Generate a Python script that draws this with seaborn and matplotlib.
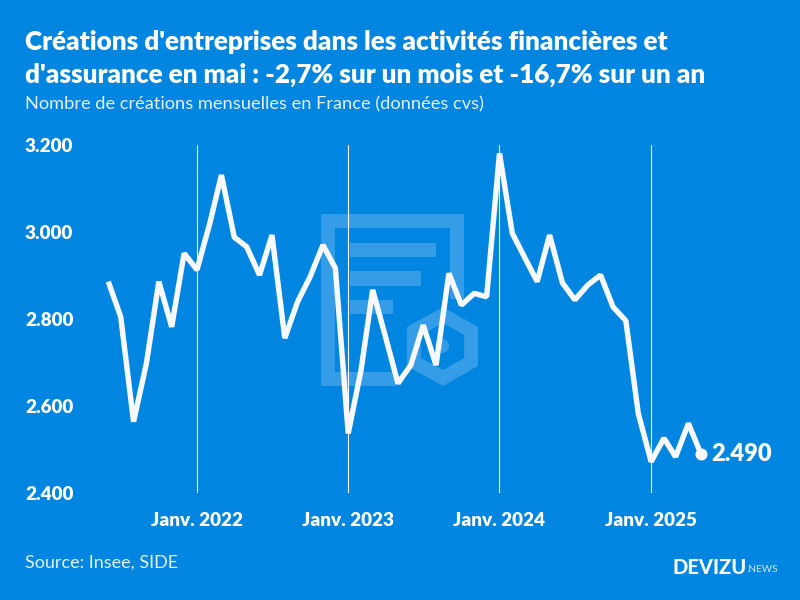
import pandas as pd
import matplotlib.pyplot as plt
from matplotlib.patches import Rectangle, Polygon, Circle
import seaborn as sns

months = pd.date_range("2021-06-01", "2025-05-01", freq="MS")
creations = [2886, 2805, 2564, 2698, 2886, 2782, 2951,
             2913, 3020, 3131, 2988, 2966, 2901, 2993, 2756, 2840, 2897, 2970, 2917,
             2537, 2683, 2867, 2759, 2652, 2694, 2786, 2694, 2905, 2832, 2859, 2851,
             3181, 2997, 2943, 2886, 2993, 2883, 2844, 2878, 2901, 2828, 2796, 2583,
             2472, 2526, 2483, 2560, 2490]
y_ticks = [2400, 2600, 2800, 3000, 3200]
y_labels = ["2.400", "2.600", "2.800", "3.000", "3.200"]
x_ticks = pd.to_datetime(["2022-01-01", "2023-01-01", "2024-01-01", "2025-01-01"])
x_labels = ["Janv. 2022", "Janv. 2023", "Janv. 2024", "Janv. 2025"]
last_label = "2.490"

title = "Créations d'entreprises dans les activités financières et\nd'assurance en mai : -2,7% sur un mois et -16,7% sur un an"
subtitle = "Nombre de créations mensuelles en France (données cvs)"
source = "Source: Insee, SIDE"

BG = "#0085E0"
WM = "#359CE8"
WHITE = "#F8F9FF"

sns.set_theme(style="white")
plt.rcParams["font.family"] = ["Lato", "DejaVu Sans"]

fig = plt.figure(figsize=(8, 6), dpi=100, facecolor=BG)

# background layer in pixel coords, for the texts and the watermark
bg = fig.add_axes([0, 0, 1, 1])
bg.set_xlim(0, 800)
bg.set_ylim(600, 0)
bg.axis("off")

for x, y, w, h in [(321, 214, 143, 14), (321, 214, 14, 172), (321, 372, 76, 14),
                   (450, 214, 14, 85), (350, 243, 86, 14), (350, 271, 71, 15),
                   (350, 300, 43, 14)]:
    bg.add_patch(Rectangle((x, y), w, h, fc=WM, ec="none"))
bg.add_patch(Polygon([(443, 315), (471, 331), (471, 362), (443, 378), (414, 362), (414, 331)],
                     closed=True, fc="none", ec=WM, lw=10, joinstyle="miter"))
bg.add_patch(Circle((442, 346), 7, fc=WM, ec="none"))

bg.text(25, 58.5, title, color="white", fontsize=18.8, fontweight="heavy", va="center", linespacing=1.4)
bg.text(25, 104, subtitle, color="#E4F1FC", fontsize=13.15, va="center")
bg.text(25, 563, source, color="#E4F1FC", fontsize=13, va="center")
bg.text(673, 567, "DEVIZU", color=WHITE, fontsize=14.5, fontweight="black", va="center")
bg.text(746, 570, ".NEWS", color="#D5E8F8", fontsize=7.2, va="center")

# main chart, 3.200 at y=145px and 2.400 at y=493px
ax = fig.add_axes([100 / 800, 1 - 493 / 600, 680 / 800, 348 / 600], zorder=1)
ax.patch.set_alpha(0)

for t in x_ticks:
    ax.axvline(t, color="white", lw=0.8, zorder=1)

sns.lineplot(x=months, y=creations, ax=ax, color=WHITE, lw=3.9, zorder=3,
             solid_joinstyle="bevel", solid_capstyle="butt")
sns.scatterplot(x=months[-1:], y=creations[-1:], ax=ax, color=WHITE, s=75, linewidth=0, zorder=4)
ax.annotate(last_label, (months[-1], creations[-1]),
            xytext=(7.3, 0), textcoords="offset points", color="white",
            fontsize=17, fontweight="heavy", va="center", ha="left")

ax.set_xlim(pd.Timestamp("2021-05-12"), pd.Timestamp("2025-11-08"))
ax.set_ylim(2400, 3200)
ax.set_xticks(x_ticks)
ax.set_xticklabels(x_labels)
ax.set_yticks(y_ticks)
ax.set_yticklabels(y_labels)
ax.set_xlabel("")
ax.set_ylabel("")
ax.tick_params(axis="x", length=0, pad=13.5, colors="white", labelsize=13.6)
ax.tick_params(axis="y", length=0, pad=54, colors="white", labelsize=13.6)
for lab in ax.get_xticklabels() + ax.get_yticklabels():
    lab.set_fontweight("heavy")
for lab in ax.get_yticklabels():
    lab.set_ha("left")
sns.despine(ax=ax, left=True, bottom=True)

fig.savefig("out.png", dpi=100, facecolor=BG)
